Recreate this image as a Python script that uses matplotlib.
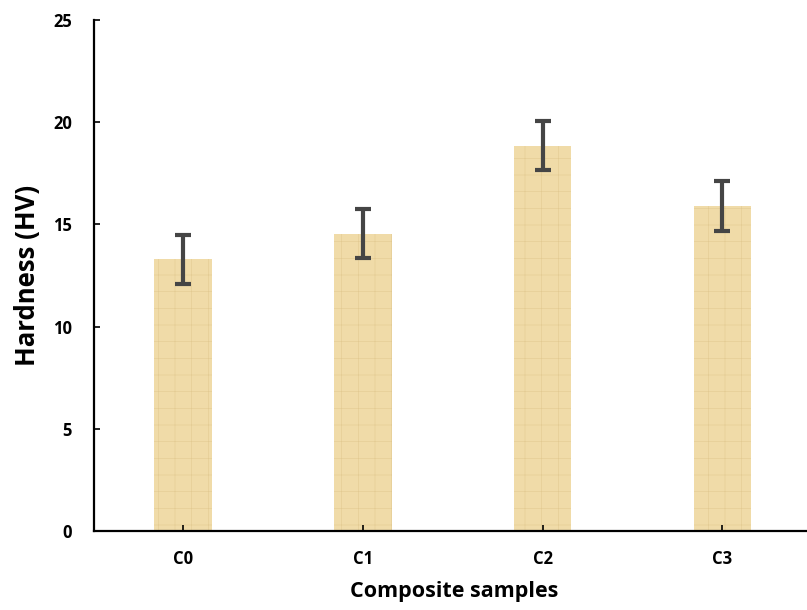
import matplotlib.pyplot as plt

# data
samples = ['C0', 'C1', 'C2', 'C3']
hardness = [13.3, 14.55, 18.85, 15.9]
hardness_err = [1.2, 1.2, 1.2, 1.2]

plt.rcParams['font.family'] = ['Open Sans', 'DejaVu Sans']
plt.rcParams['hatch.linewidth'] = 0.4

fig = plt.figure(figsize=(8.07, 6.10), dpi=100)
ax = fig.add_axes([0.1165, 0.1295, 0.8835, 0.8377])

x = range(len(samples))
ax.bar(x, hardness, width=0.32, color='#f0dba8', edgecolor='#e2ca92',
       linewidth=0, hatch='+')
ax.errorbar(x, hardness, yerr=hardness_err, fmt='none', ecolor='#454545',
            elinewidth=3, capsize=6, capthick=3)

ax.set_xlim(-0.494, 3.47)
ax.set_ylim(0, 25)
ax.set_yticks([0, 5, 10, 15, 20, 25])
ax.set_xticks(list(x))
ax.set_xticklabels(samples)

for s in ['top', 'right']:
    ax.spines[s].set_visible(False)
for s in ['left', 'bottom']:
    ax.spines[s].set_linewidth(1.6)
    ax.spines[s].set_color('black')

ax.tick_params(axis='both', direction='in', length=4, width=1.2,
               labelsize=12)
ax.tick_params(axis='x', pad=14)
ax.tick_params(axis='y', pad=16)
for lbl in ax.get_xticklabels() + ax.get_yticklabels():
    lbl.set_fontweight('bold')

ax.set_xlabel('Composite samples', fontsize=15.5, fontweight='bold')
ax.set_ylabel('Hardness (HV)', fontsize=18.5, fontweight='bold')
ax.xaxis.set_label_coords(0.505, -0.098)
ax.yaxis.set_label_coords(-0.074, 0.5)

fig.savefig('out.png', dpi=100)
